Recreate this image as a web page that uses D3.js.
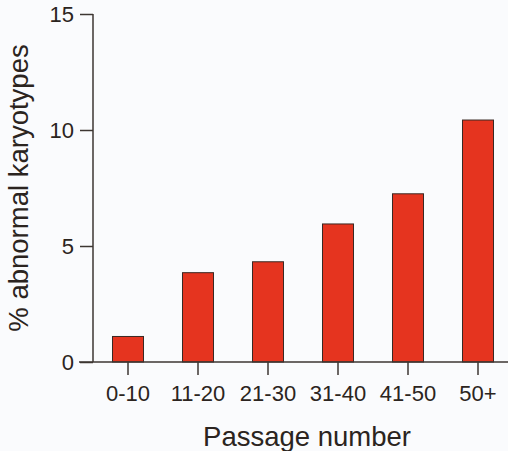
<!DOCTYPE html>
<html>
<head>
<meta charset="utf-8">
<script src="https://cdn.jsdelivr.net/npm/d3@7/dist/d3.min.js"></script>
<style>
  html, body { margin: 0; padding: 0; background: #fafbfd; }
  svg { display: block; }
  text { font-family: "Liberation Sans", Arial, sans-serif; fill: #2b2420; }
</style>
</head>
<body>
<svg id="chart"></svg>
<script>
// data
const passages = ["0-10", "11-20", "21-30", "31-40", "41-50", "50+"]
const abnormalPct = [1.1, 3.85, 4.32, 5.95, 7.25, 10.43]
const yTicks = [0, 5, 10, 15]

const width = 508, height = 451
const margin = {top: 14, right: -5, bottom: 89, left: 93}
const axisColor = "#3d3632"

const svg = d3.select("#chart")
  .attr("width", width)
  .attr("height", height)

const x = d3.scaleBand()
  .domain(passages)
  .range([margin.left, width - margin.right])
  .paddingInner(0.557)
  .paddingOuter(0.2785)

const y = d3.scaleLinear()
  .domain([0, 15])
  .range([height - margin.bottom, margin.top])

// bars
svg.append("g")
  .selectAll("rect")
  .data(passages)
  .enter().append("rect")
  .attr("x", d => x(d))
  .attr("y", (d, i) => y(abnormalPct[i]))
  .attr("width", x.bandwidth())
  .attr("height", (d, i) => y(0) - y(abnormalPct[i]))
  .attr("fill", "#e5341f")
  .attr("stroke", "#3a2823")
  .attr("stroke-width", 1)

// y axis
const yAxis = svg.append("g")
  .attr("transform", `translate(${margin.left},0)`)
  .call(d3.axisLeft(y).tickValues(yTicks).tickSize(13).tickPadding(6).tickFormat(d3.format("d")))
yAxis.select(".domain").attr("d", `M0,${y(15)}V${y(0)}`)
yAxis.selectAll("path, line").attr("stroke", axisColor).attr("stroke-width", 1.5)
yAxis.selectAll("text")
  .style("font-size", "22px")
  .attr("fill", "#2b2420")
  .attr("dy", "0.36em")

// x axis
const xAxis = svg.append("g")
  .attr("transform", `translate(0,${y(0)})`)
  .call(d3.axisBottom(x).tickSize(13).tickPadding(10))
xAxis.select(".domain").attr("d", `M${margin.left - 14},0H${width}`)
xAxis.selectAll("path, line").attr("stroke", axisColor).attr("stroke-width", 1.5)
xAxis.selectAll("text")
  .style("font-size", "22px")
  .attr("fill", "#2b2420")

// axis titles
svg.append("text")
  .attr("x", (x(passages[0]) + x(passages[passages.length - 1]) + x.bandwidth()) / 2 + 4)
  .attr("y", 446)
  .attr("text-anchor", "middle")
  .style("font-size", "27.5px")
  .text("Passage number")

svg.append("text")
  .attr("transform", `translate(28,${(y(0) + y(15)) / 2}) rotate(-90)`)
  .attr("text-anchor", "middle")
  .style("font-size", "27.5px")
  .text("% abnormal karyotypes")
</script>
</body>
</html>
